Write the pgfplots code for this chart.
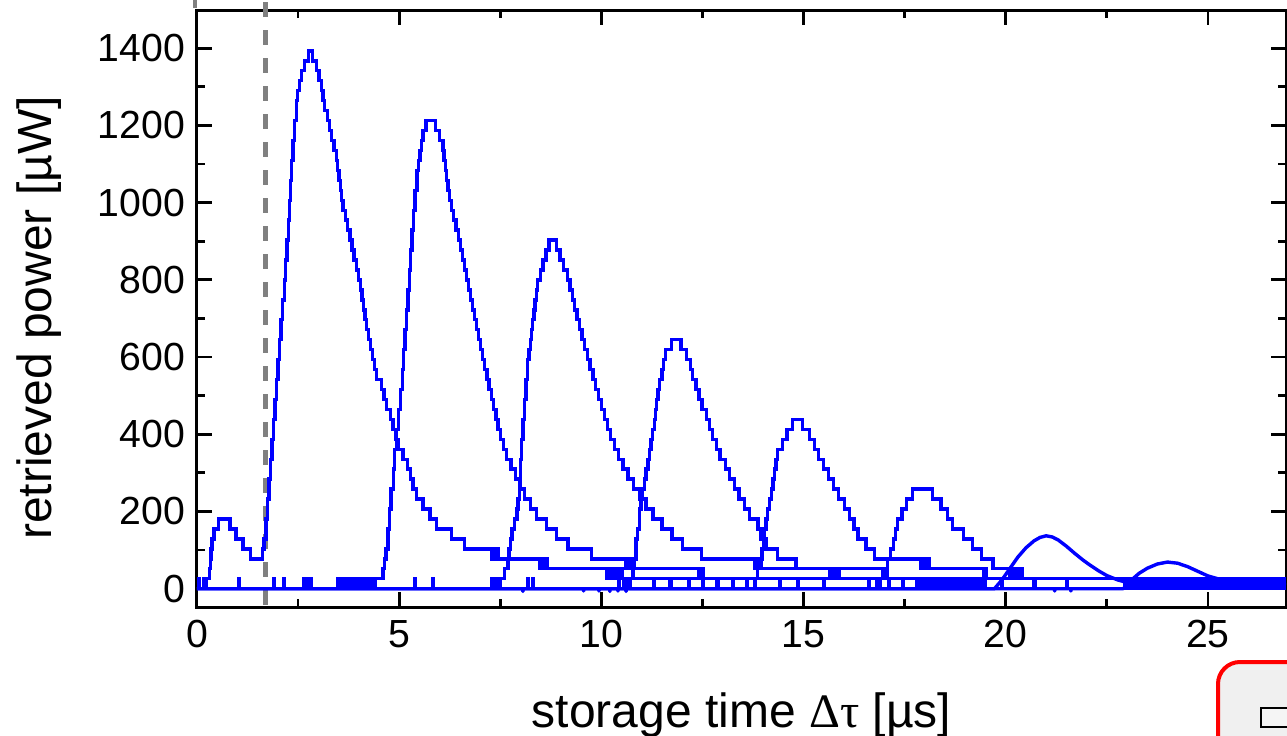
\documentclass[border=0pt]{standalone}
\usepackage{fontspec}
\setmainfont{Liberation Sans}
\newfontfamily\serifgr{Liberation Serif}
\usepackage{pgfplots}
\pgfplotsset{compat=1.18}
\begin{document}
\begin{tikzpicture}
\pgfplotsset{
  tr/.style={blue, line width=1.7pt, const plot, line join=miter},
  sm/.style={blue, line width=1.7pt, sharp plot, line join=round},
}
\begin{axis}[
  at={(98.5pt,64pt)}, anchor=south west,
  width=544.5pt, height=298.5pt, scale only axis,
  xmin=0, xmax=26.93, ymin=-47.4, ymax=1499,
  xtick={0,5,...,25}, minor x tick num=1,
  ytick={0,200,...,1400}, minor y tick num=1,
  tick align=inside,
  major tick length=7.5pt, minor tick length=4pt,
  every tick/.style={black, line width=1.4pt},
  axis line style={line width=1.5pt},
  /pgf/number format/assume math mode=true,
  /pgf/number format/1000 sep={},
  scaled ticks=false,
  tick label style={font=\fontsize{19.6}{22}\selectfont},
  xticklabel style={yshift=-3pt},
  yticklabel style={xshift=-2.5pt},
  xlabel={storage time {\serifgr Δτ} [µs]},
  ylabel={retrieved power [µW]},
  label style={font=\fontsize{24}{28}\selectfont},
  xlabel style={at={(axis description cs:0.5,-0.201)}, anchor=base},
  ylabel style={at={(axis description cs:-0.134,0.484)}, anchor=base},
  clip=false,
]
% dashed switching line
\draw[black!50, line width=2.4pt, dash pattern=on 7.5pt off 6.5pt] (axis cs:1.70,-42) -- (axis cs:1.70,1525);

% trace 1 (leak pulse + retrieval at 2.8)
\addplot[tr] coordinates {
(0,0) (0.03,26) (0.045,0) (0.17,26) (0.19,0) (0.22,26) (0.28,26) (0.31,52) (0.33,77) (0.35,103) (0.37,129) (0.42,155) (0.53,181)
(0.82,155) (0.96,129) (1.14,103) (1.33,77)
(1.62,103) (1.661,129) (1.702,181) (1.741,232) (1.780,284) (1.818,335) (1.857,387) (1.895,439) (1.932,490) (1.970,542)
(2.007,593) (2.044,645) (2.081,697) (2.118,748) (2.157,800) (2.194,851) (2.229,903) (2.258,955) (2.285,1006) (2.314,1058)
(2.341,1109) (2.370,1161) (2.412,1213) (2.463,1264) (2.490,1290) (2.536,1316) (2.586,1342) (2.661,1367) (2.75,1393)
(2.86,1367) (2.96,1342) (3.02,1316) (3.08,1290) (3.12,1264) (3.16,1238) (3.22,1213) (3.28,1187) (3.33,1161) (3.39,1135)
(3.45,1109) (3.474,1084) (3.508,1058) (3.542,1032) (3.577,1006) (3.611,980) (3.667,955) (3.724,929) (3.78,903) (3.834,877)
(3.886,851) (3.938,826) (3.99,800) (4.047,774) (4.077,748) (4.113,722) (4.15,697) (4.197,671) (4.245,645) (4.294,619)
(4.343,593) (4.39,568) (4.44,542) (4.56,516) (4.625,490) (4.69,464) (4.78,439) (4.85,413) (4.91,387) (4.98,361)
(5.09,335) (5.21,310) (5.28,284) (5.34,258) (5.43,232) (5.59,206) (5.76,181) (5.92,155) (6.29,129) (6.62,103)
(7.30,77) (7.32,103) (7.34,77) (7.355,103) (7.37,77) (7.385,103) (7.40,77) (7.42,103) (7.44,77)
(8.47,52) (8.49,77) (8.51,52) (8.53,77) (8.56,52) (8.58,77) (8.61,52) (8.64,77) (8.67,52)
(10.13,26) (10.15,52) (10.18,26) (10.21,52) (10.24,26) (10.28,52) (10.31,26) (10.35,52) (10.38,26) (10.42,52) (10.46,26) (10.50,52) (10.52,26)
(11.30,0) (11.32,26) (12.16,0) (12.18,26) (13.24,0) (13.26,26) (14.40,0) (14.42,26) (16.60,0) (16.62,26) (17.10,0) (17.12,26)
(17.80,0) (17.85,26) (17.90,0) (17.95,26) (18.00,0) (18.05,26) (18.10,0) (18.15,26) (18.20,0) (18.25,26) (18.30,0) (18.35,26)
(18.40,0) (18.45,26) (18.50,0) (18.55,26) (18.60,0) (18.65,26) (18.70,0) (18.75,26) (18.80,0) (18.85,26) (18.90,0) (18.95,26)
(19.00,0) (19.05,26) (19.10,0) (19.15,26) (19.20,0) (19.25,26) (19.30,0) (19.35,26) (19.40,0) (19.45,26) (19.50,0)
};

% trace 2 (peak 5.8)
\addplot[tr] coordinates {
(0,0) (1.02,26) (1.04,0) (1.89,26) (1.91,0) (2.15,26) (2.17,0) (2.63,26) (2.65,0) (2.69,26) (2.71,0) (2.75,26) (2.77,0) (2.81,26) (2.83,0)
(3.48,26) (3.52,0) (3.55,26) (3.60,0) (3.63,26) (3.66,0) (3.70,26) (3.74,0) (3.77,26) (3.81,0) (3.84,26) (3.88,0) (3.91,26) (3.95,0)
(3.98,26) (4.02,0) (4.05,26) (4.09,0) (4.12,26) (4.16,0) (4.19,26) (4.23,0) (4.26,26) (4.30,0) (4.33,26) (4.37,0) (4.40,26)
(4.60,52) (4.635,77) (4.67,103) (4.72,155) (4.765,206) (4.80,258) (4.855,310) (4.885,361) (4.93,413) (4.98,464) (5.035,516)
(5.08,568) (5.11,619) (5.145,671) (5.18,722) (5.215,774) (5.25,826) (5.285,877) (5.32,929) (5.355,980) (5.39,1032) (5.443,1084)
(5.475,1109) (5.51,1135) (5.55,1161) (5.59,1187) (5.66,1213)
(5.90,1187) (6.00,1161) (6.08,1135) (6.11,1109) (6.14,1084) (6.17,1058) (6.21,1032) (6.25,1006) (6.30,980) (6.35,955) (6.40,929)
(6.46,903) (6.51,877) (6.56,851) (6.61,826) (6.66,800) (6.71,774) (6.76,748) (6.81,722) (6.86,697) (6.91,671) (6.96,645)
(7.01,619) (7.06,593) (7.11,568) (7.17,542) (7.22,516) (7.28,490) (7.33,464) (7.39,439) (7.44,413) (7.50,387) (7.58,361)
(7.66,335) (7.76,310) (7.87,284) (7.99,258) (8.10,232) (8.25,206) (8.39,181) (8.64,155) (8.89,129) (9.17,103) (9.75,77)
(10.60,52) (10.62,77) (10.65,52) (10.68,77) (10.71,52) (10.74,77) (10.77,52)
(12.40,26) (12.42,52) (12.45,26) (12.48,52) (12.51,26)
(14.85,0) (14.87,26) (16.80,0) (16.82,26) (19.50,0) (20.00,0)
};

% trace 3 (peak 8.8)
\addplot[tr] coordinates {
(0,0) (5.38,26) (5.40,0) (5.82,26) (5.84,0) (7.30,26) (7.32,0) (7.36,26) (7.38,0) (7.42,26) (7.44,0)
(7.49,26) (7.60,52) (7.69,77) (7.72,103) (7.75,129) (7.79,155) (7.85,181) (7.91,206) (7.94,232) (7.97,284) (8.00,335)
(8.03,387) (8.06,439) (8.10,490) (8.14,542) (8.18,593) (8.21,619) (8.24,645) (8.27,671) (8.30,697) (8.33,722) (8.36,748)
(8.39,774) (8.42,800) (8.49,826) (8.56,851) (8.63,877) (8.70,903)
(8.89,877) (8.98,851) (9.07,826) (9.16,800) (9.22,774) (9.28,748) (9.34,722) (9.40,697) (9.46,671) (9.52,645) (9.58,619)
(9.65,593) (9.72,568) (9.79,542) (9.86,516) (9.93,490) (10.00,464) (10.07,439) (10.15,413) (10.23,387) (10.33,361)
(10.43,335) (10.53,310) (10.66,284) (10.80,258) (10.95,232) (11.10,206) (11.28,181) (11.50,155) (11.75,129) (12.00,103) (12.48,77)
(13.78,52) (13.80,77) (13.83,52) (13.86,77) (13.90,52) (13.93,77) (13.96,52)
(15.64,26) (15.67,52) (15.71,26) (15.75,52) (15.79,26) (15.83,52) (15.88,26)
(17.45,0) (17.47,26) (19.90,0) (19.92,26) (22.90,26)
};

% trace 4 (peak 11.9)
\addplot[tr] coordinates {
(0,0) (8.18,26) (8.20,0) (8.30,26) (8.32,0) (10.55,26) (10.58,0) (10.62,26) (10.64,0)
(10.72,26) (10.78,52) (10.82,77) (10.86,129) (10.90,155) (10.94,206) (10.98,232) (11.02,258) (11.07,284) (11.10,310)
(11.15,335) (11.19,361) (11.23,387) (11.27,413) (11.31,439) (11.34,464) (11.37,490) (11.40,516) (11.43,542) (11.50,568)
(11.54,593) (11.58,619) (11.73,645)
(11.97,619) (12.10,593) (12.20,568) (12.26,542) (12.34,516) (12.41,490) (12.49,464) (12.60,439) (12.67,413) (12.75,387)
(12.85,361) (12.93,335) (13.07,310) (13.17,284) (13.29,258) (13.40,232) (13.54,206) (13.66,181) (13.87,155) (13.95,129)
(14.07,103) (14.36,77) (14.81,52)
(16.95,26) (16.98,52) (17.02,26) (17.05,52) (17.08,26)
(18.60,0) (18.62,26) (20.70,0) (20.72,26) (22.90,26)
};

% trace 5 (peak 14.9)
\addplot[tr] coordinates {
(0,0) (10.43,26) (10.45,0) (11.30,26) (11.32,0) (12.16,26) (12.18,0) (12.86,26) (12.88,0) (13.24,26) (13.26,0)
(13.80,26) (13.86,52) (13.92,77) (13.97,103) (14.01,129) (14.04,155) (14.07,181) (14.11,206) (14.15,232) (14.20,258)
(14.24,284) (14.28,310) (14.32,335) (14.36,361) (14.48,387) (14.59,413) (14.73,439)
(14.98,413) (15.14,387) (15.27,361) (15.37,335) (15.49,310) (15.62,284) (15.74,258) (15.87,232) (16.01,206) (16.13,181)
(16.25,155) (16.35,129) (16.54,103) (16.75,77)
(17.90,52) (17.93,77) (17.96,52) (18.00,77) (18.04,52) (18.08,77) (18.11,52)
(19.45,26) (19.48,52) (19.52,26) (21.50,0) (21.52,26) (22.90,26)
};

% trace 6 (peak 18)
\addplot[tr] coordinates {
(0,0) (10.60,26) (10.62,0) (11.70,26) (11.72,0) (12.50,26) (12.52,0) (13.60,26) (13.62,0) (14.40,26) (14.42,0)
(14.85,26) (14.87,0) (15.50,26) (15.52,0) (16.60,26) (16.62,0)
(16.90,26) (17.00,52) (17.08,77) (17.15,103) (17.22,129) (17.28,155) (17.33,181) (17.43,206) (17.55,232) (17.70,258)
(18.19,232) (18.40,206) (18.56,181) (18.69,155) (18.95,129) (19.18,103) (19.40,77) (19.68,52)
(20.10,26) (20.13,52) (20.17,26) (20.21,52) (20.25,26) (20.29,52) (20.33,26) (20.37,52) (20.40,26)
(22.95,0) (23.00,26) (23.05,0) (23.10,26) (23.15,0) (23.20,26) (23.25,0) (23.30,26) (23.35,0) (23.40,26) (23.45,0)
(23.50,26) (23.55,0) (23.60,26) (23.65,0) (23.70,26) (23.75,0) (23.80,26) (23.85,0) (23.90,26) (23.95,0) (24.00,26)
(24.05,0) (24.10,26) (24.15,0) (24.20,26) (24.25,0) (24.30,26) (24.35,0) (24.40,26) (24.45,0) (24.50,26) (24.55,0)
(24.60,26) (24.65,0) (24.70,26) (24.75,0) (24.80,26) (24.85,0) (24.90,26) (24.95,0) (25.00,26) (25.05,0) (25.10,26)
(25.15,0) (25.20,26) (25.25,0) (25.30,26) (25.35,0) (25.40,26) (25.45,0) (25.50,26) (25.55,0) (25.60,26) (25.65,0)
(25.70,26) (25.75,0) (25.80,26) (25.85,0) (25.90,26) (25.95,0) (26.00,26) (26.05,0) (26.10,26) (26.15,0) (26.20,26)
(26.25,0) (26.30,26) (26.35,0) (26.40,26) (26.45,0) (26.50,26) (26.55,0) (26.60,26) (26.65,0) (26.70,26) (26.75,0)
(26.80,26) (26.85,0) (26.90,26) (26.93,26)
};

% trace 7 (smooth, peak 21)
\addplot[sm] coordinates {
(0,0) (8.05,0) (8.06,-7) (8.07,0) (9.55,0) (9.56,-6) (9.57,0) (9.93,0) (9.94,-6) (9.95,0) (10.20,0) (10.21,-7) (10.22,0)
(10.40,0) (10.41,-6) (10.42,0) (10.60,0) (10.61,-7) (10.62,0) (19.72,0)
(19.90,22) (20.10,52) (20.30,82) (20.50,106) (20.70,124) (20.85,133) (21.00,137) (21.15,134) (21.30,126) (21.50,110)
(21.70,92) (21.90,75) (22.07,62) (22.30,46) (22.50,34) (22.76,23) (23.00,16) (23.30,11)
};

% trace 8 (smooth, peak 24)
\addplot[sm] coordinates {
(0,0) (21.20,0) (21.21,-6) (21.22,0) (21.60,0) (21.61,-6) (21.62,0) (22.90,0)
(23.00,8) (23.10,22) (23.30,40) (23.50,53) (23.75,64) (24.00,69) (24.25,66) (24.50,57) (24.75,45) (25.00,33)
(25.30,24) (25.60,18) (26.00,14) (26.50,12) (26.93,10)
};
\end{axis}
% top-left stub
\draw[gray, line width=2pt] (97.5pt,367.5pt) -- (97.5pt,363.5pt);
% partial legend box
\draw[red, line width=2pt, rounded corners=11pt, fill=black!6] (609pt,36.5pt) rectangle (720pt,-40pt);
\draw[black, line width=0.8pt, fill=black!4] (630.5pt,13.5pt) rectangle (670pt,4pt);
\pgfresetboundingbox
\path[use as bounding box] (0,0) rectangle (643.5pt,367.5pt);
\end{tikzpicture}
\end{document}
